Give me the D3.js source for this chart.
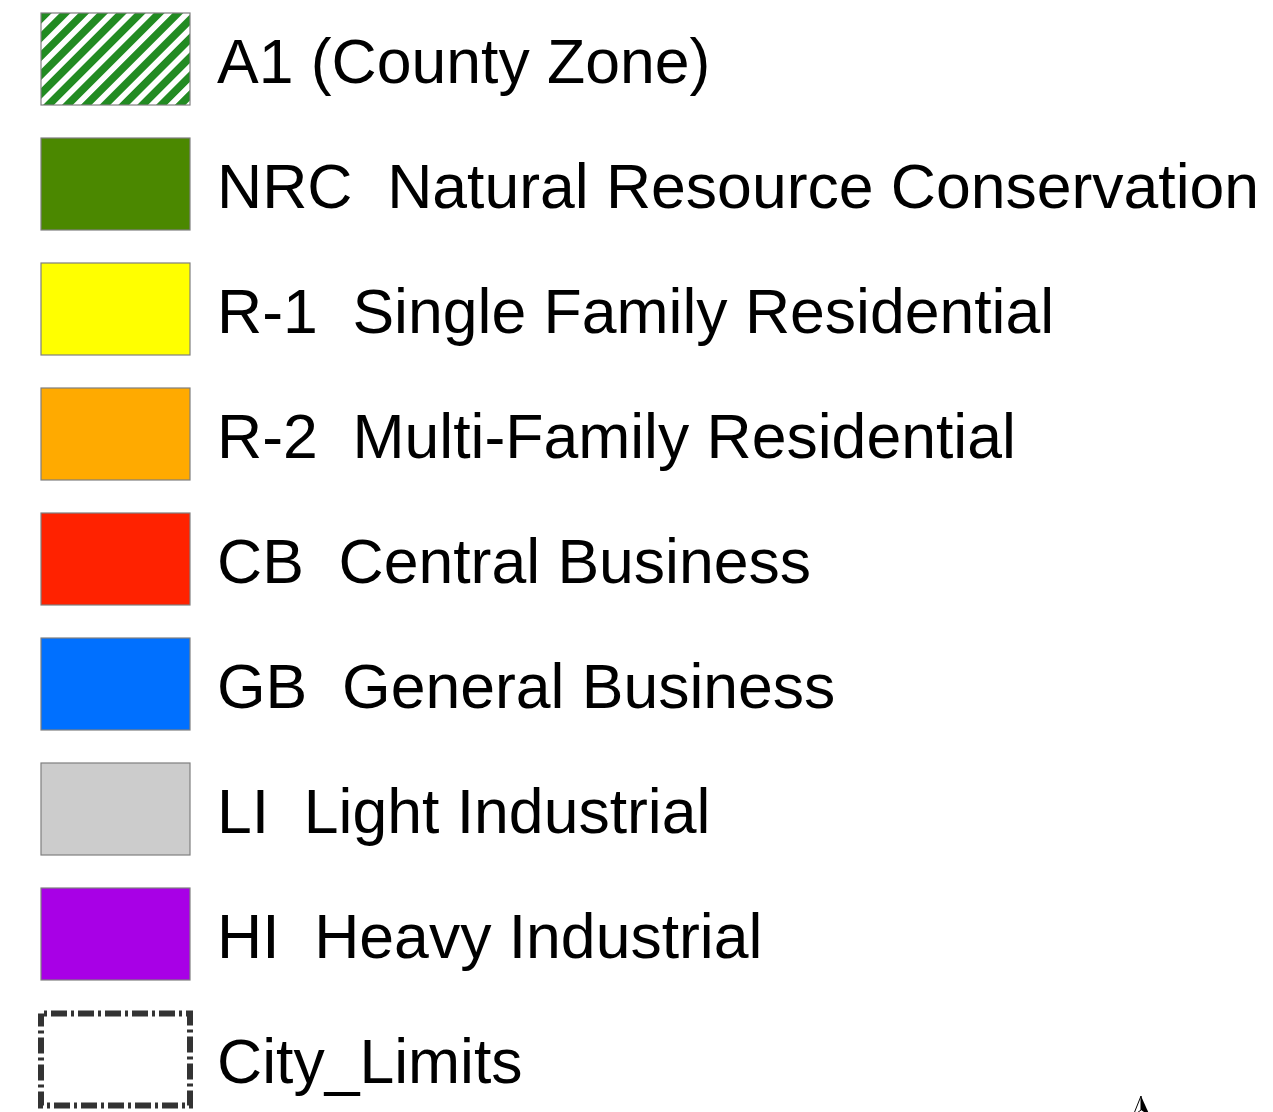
<!DOCTYPE html>
<html lang="en">
<head>
  <meta charset="UTF-8">
  <title>Zoning Legend</title>
  <script src="https://cdn.jsdelivr.net/npm/d3@7"></script>
  <style>
    body { margin: 0; background: #fff; }
    text { font-family: "Liberation Sans", Arial, sans-serif; white-space: pre; }
  </style>
</head>
<body>
<div id="legend"></div>
<script>
  // legend entries
  const codes = ['A1', 'NRC', 'R-1', 'R-2', 'CB', 'GB', 'LI', 'HI', 'City_Limits']
  const labels = [
    'A1 (County Zone)',
    'NRC  Natural Resource Conservation',
    'R-1  Single Family Residential',
    'R-2  Multi-Family Residential',
    'CB  Central Business',
    'GB  General Business',
    'LI  Light Industrial',
    'HI  Heavy Industrial',
    'City_Limits'
  ]
  const fills = ['hatch', '#4b8800', '#ffff00', '#ffaa00', '#ff2200', '#0070ff', '#cccccc', '#a800e6', 'none']

  const width = 1273
  const height = 1112

  const svg = d3.select('#legend')
    .append('svg')
    .attr('width', width)
    .attr('height', height)

  const defs = svg.append('defs')
  const hatch = defs.append('pattern')
    .attr('id', 'hatch')
    .attr('patternUnits', 'userSpaceOnUse')
    .attr('width', 13.3)
    .attr('height', 13.3)
    .attr('patternTransform', 'translate(41,13) rotate(45)')
  hatch.append('rect').attr('width', 13.3).attr('height', 13.3).attr('fill', '#fff')
  hatch.append('rect').attr('width', 7.6).attr('height', 13.3).attr('fill', '#228b22')

  const y = d3.scaleBand()
    .domain(codes)
    .range([13, 1105])
    .paddingInner(0.264)
    .paddingOuter(0)

  const swatchX = 41
  const swatchW = 149

  const rows = svg.selectAll('g.row')
    .data(codes)
    .join('g')
    .attr('class', 'row')

  rows.filter(d => d !== 'City_Limits')
    .append('rect')
    .attr('x', swatchX)
    .attr('y', d => y(d))
    .attr('width', swatchW)
    .attr('height', y.bandwidth())
    .attr('fill', (d, i) => fills[i] === 'hatch' ? 'url(#hatch)' : fills[i])
    .attr('stroke', '#7f7f7f')
    .attr('stroke-width', 1.2)

  rows.filter(d => d === 'City_Limits')
    .append('rect')
    .attr('x', swatchX)
    .attr('y', d => y(d) + 0.5)
    .attr('width', swatchW)
    .attr('height', y.bandwidth())
    .attr('fill', 'none')
    .attr('stroke', '#333')
    .attr('stroke-width', 6)
    .attr('stroke-dasharray', '16 4 3 4')
    .attr('stroke-dashoffset', -10)

  rows.append('text')
    .attr('x', 217)
    .attr('y', d => y(d) + y.bandwidth() / 2 + 24)
    .attr('font-size', 62.5)
    .attr('fill', '#000')
    .text((d, i) => labels[i])

  // top of the north arrow peeking in at the bottom edge
  const arrow = svg.append('g').attr('transform', 'translate(1141,1096)')
  arrow.append('path')
    .attr('d', 'M0,0 L-8,20 L0,14 Z')
    .attr('fill', '#fff')
    .attr('stroke', '#000')
    .attr('stroke-width', 1)
  arrow.append('path')
    .attr('d', 'M0,0 L9,20 L0,14 Z')
    .attr('fill', '#000')
</script>
</body>
</html>
